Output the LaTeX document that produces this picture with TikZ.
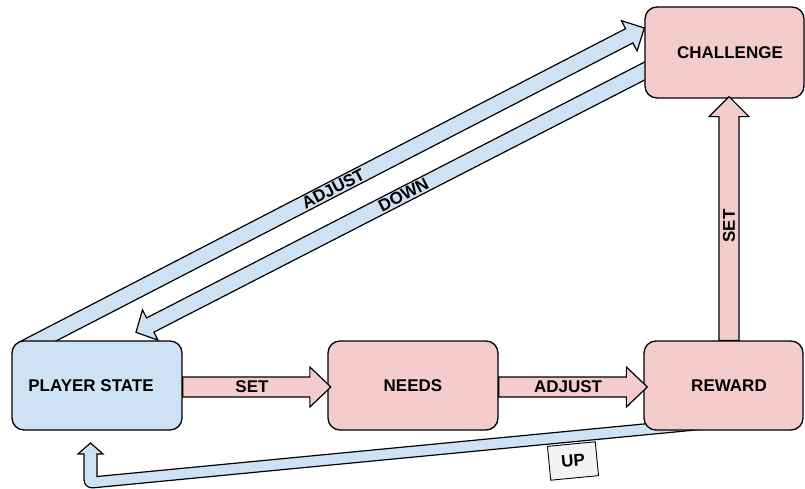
\documentclass[tikz,border=0pt]{standalone}
\usepackage{fontspec}
\setmainfont{Liberation Sans}
\usetikzlibrary{calc,backgrounds}

\definecolor{stateblue}{HTML}{CFE2F3}
\definecolor{stepink}{HTML}{F4CCCC}
\definecolor{taggray}{HTML}{F3F3F3}

\newcommand\diagfont{\fontsize{17}{19}\selectfont\bfseries}

% block arrow: #1 tail, #2 tip, #3 shaft half width, #4 head half width,
% #5 head length, #6 style
\newcommand\blockarrow[6]{%
  \coordinate (ba-base) at ($(#2)!#5!(#1)$);
  \draw[#6] ($(#1)!#3!90:(#2)$) -- ($(ba-base)!#3!90:(#2)$)
    -- ($(ba-base)!#4!90:(#2)$) -- (#2) -- ($(ba-base)!#4!-90:(#2)$)
    -- ($(ba-base)!#3!-90:(#2)$) -- ($(#1)!#3!-90:(#2)$) -- cycle;
}

\tikzset{
  box/.style={draw=black, line width=1.3pt, rounded corners=12pt,
    minimum height=89pt, inner sep=0pt, font=\diagfont},
  bluebox/.style={box, fill=stateblue, minimum width=170pt},
  pinkbox/.style={box, fill=stepink},
  bluearrow/.style={draw=black, line width=1.2pt, fill=stateblue, line join=miter},
  pinkarrow/.style={draw=black, line width=1.2pt, fill=stepink, line join=miter},
  arrowtext/.style={font=\diagfont, inner sep=0pt},
  tagbox/.style={draw=black, line width=0.9pt, fill=taggray, font=\diagfont,
    minimum width=48pt, minimum height=34pt, inner sep=0pt},
}

\begin{document}
\begin{tikzpicture}[x=1pt, y=-1pt]
\useasboundingbox (0,0) rectangle (805,489);

% states
\node[bluebox] (ps) at (97,385.5) {\hspace*{-12pt}PLAYER STATE};
\node[pinkbox, minimum width=170pt] (needs) at (413,385.5) {NEEDS};
\node[pinkbox, minimum width=159pt] (reward) at (723.5,385.5) {\hspace*{11pt}REWARD};
\node[pinkbox, minimum width=159pt, minimum height=91pt] (challenge) at (724.5,52.5) {\hspace*{11pt}CHALLENGE};

% feedback arrows that run under the boxes
\coordinate (ad-tail) at ($(ps.north west)+(10.7,9.2)$);
\coordinate (ad-tip) at ($(challenge.west)+(0,-24.5)$);
\coordinate (dn-tail) at ($(challenge.west)+(11,13)$);
\coordinate (dn-tip) at ($(ps.north)+(39,-8)$);
\begin{pgfonlayer}{background}
  \begin{scope}
    \clip (0,0) rectangle (805,341);
    \blockarrow{ad-tail}{ad-tip}{8pt}{17pt}{17pt}{bluearrow}
  \end{scope}
  \blockarrow{dn-tail}{dn-tip}{8pt}{17pt}{16pt}{bluearrow}
  % elbow arrow from the reward back to the player state
  \draw[bluearrow] (90.5,443) -- (103,454) -- (97,454) -- (97,476.5)
    -- (730,415.7) -- (730,426.7) [rounded corners=9pt] -- (84,488.7)
    [sharp corners] -- (84,454) -- (78,454) -- cycle;
\end{pgfonlayer}

\path (ad-tail) -- (ad-tip) node[arrowtext, sloped, pos=0.5] {ADJUST};
\path (dn-tail) -- (dn-tip) node[arrowtext, sloped, pos=0.485] {DOWN};
\node[tagbox, rotate=5.5] (up) at (573,461) {UP};

% forward arrows
\coordinate (set-tail) at ($(ps.east)+(0,1.5)$);
\coordinate (set-tip) at ($(needs.west)+(3.5,1.5)$);
\blockarrow{set-tail}{set-tip}{10pt}{20pt}{21pt}{pinkarrow}
\path (set-tail) -- (set-tip) node[arrowtext, pos=0.468] {SET};

\coordinate (adj-tail) at ($(needs.east)+(0,1.5)$);
\coordinate (adj-tip) at ($(reward.west)+(4,1.5)$);
\blockarrow{adj-tail}{adj-tip}{10pt}{20pt}{21pt}{pinkarrow}
\path (adj-tail) -- (adj-tip) node[arrowtext, pos=0.467] {ADJUST};

\coordinate (up-tail) at ($(reward.north)+(5.5,0)$);
\coordinate (up-tip) at ($(challenge.south)+(4.5,-2)$);
\blockarrow{up-tail}{up-tip}{10pt}{20pt}{20pt}{pinkarrow}
\path (up-tail) -- (up-tip) node[arrowtext, pos=0.469, rotate=90] {SET};
\end{tikzpicture}
\end{document}
